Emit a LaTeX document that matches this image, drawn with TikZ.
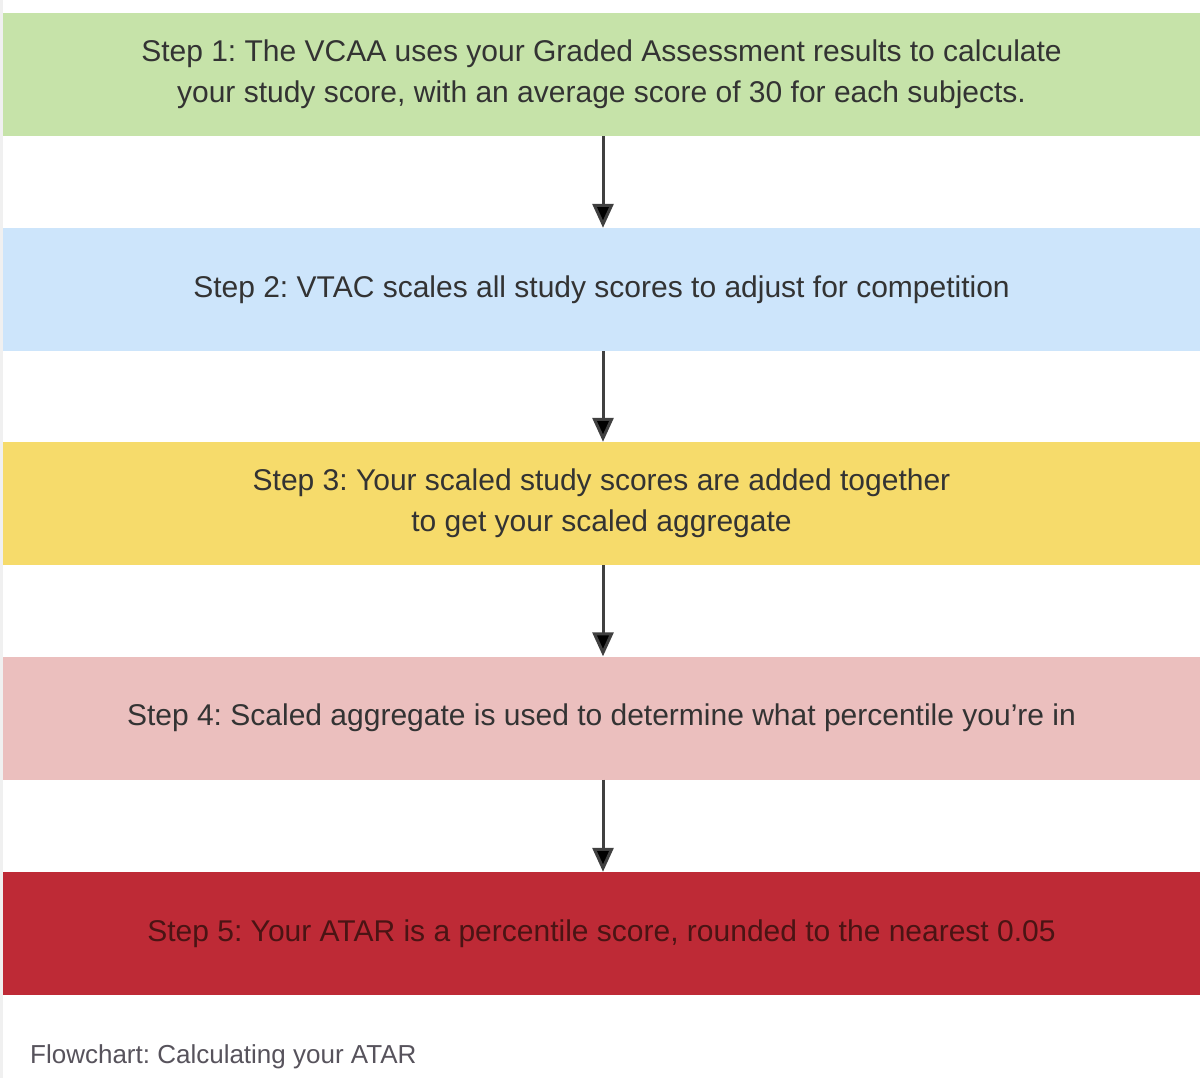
\documentclass[tikz,border=0pt]{standalone}
\usepackage{fontspec}
\setmainfont{Liberation Sans}
\usetikzlibrary{arrows.meta}
\definecolor{cgreen}{HTML}{C6E3A9}
\definecolor{cblue}{HTML}{CDE5FB}
\definecolor{cyellow}{HTML}{F6DB6B}
\definecolor{cpink}{HTML}{EBBFBE}
\definecolor{cred}{HTML}{BE2A36}
\definecolor{ctext}{HTML}{333333}
\definecolor{credtext}{HTML}{4A1414}
\definecolor{ccap}{HTML}{57535C}
\definecolor{cedge}{HTML}{F0F0F0}
\frenchspacing
\begin{document}
\begin{tikzpicture}[x=1pt,y=-1pt,
  stepbox/.style={minimum width=1197pt,minimum height=123pt,inner sep=0pt,
    align=center,text=ctext,font=\fontsize{30}{41}\selectfont},
  flowarrow/.style={draw=black!75,line width=3pt,
    -{Triangle[width=21pt,length=24pt,fill=black]}}]
\useasboundingbox (0,0) rectangle (1200,1078);
\fill[white] (0,0) rectangle (1200,1078);
\fill[cedge] (0,0) rectangle (3,1078);
\node[stepbox,fill=cgreen] (s1) at (601.5,74.5)
  {Step 1: The VCAA uses your Graded Assessment results to calculate\\
   your study score, with an average score of 30 for each subjects.};
\node[stepbox,fill=cblue] (s2) at (601.5,289.5)
  {Step 2: VTAC scales all study scores to adjust for competition};
\node[stepbox,fill=cyellow] (s3) at (601.5,503.5)
  {Step 3: Your scaled study scores are added together\\
   to get your scaled aggregate};
\node[stepbox,fill=cpink] (s4) at (601.5,718)
  {Step 4: Scaled aggregate is used to determine what percentile you're in};
\node[stepbox,fill=cred,text=credtext] (s5) at (601.5,933.5)
  {Step 5: Your ATAR is a percentile score, rounded to the nearest 0.05};
\foreach \a/\b in {s1/s2,s2/s3,s3/s4,s4/s5}
  \draw[flowarrow] (\a.south -| 603,0) -- (\b.north -| 603,0);
\node[anchor=base west,inner sep=0pt,text=ccap,font=\fontsize{26}{30}\selectfont]
  (cap) at (30,1063) {Flowchart: Calculating your ATAR};
\end{tikzpicture}
\end{document}
